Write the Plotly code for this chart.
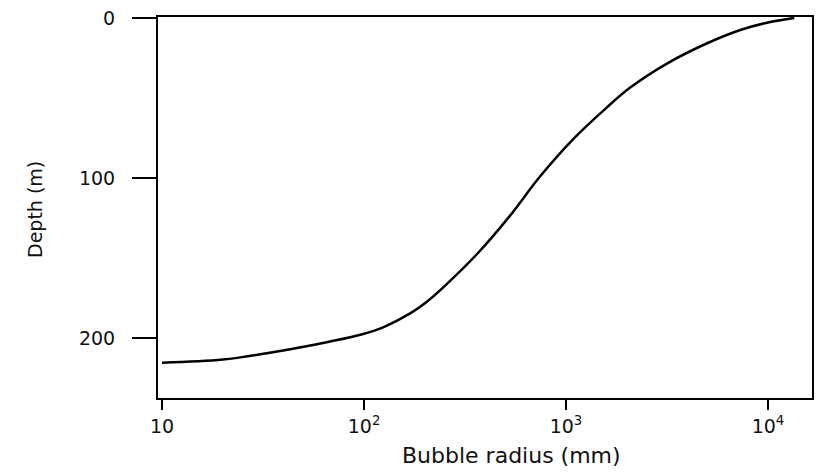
import plotly.graph_objects as go

radius_mm = [10, 20, 33, 55, 96, 126, 170, 204, 246, 363, 525, 740, 1080, 1590, 2080, 3160, 5000, 7300, 10000, 13500]
depth_m = [215.5, 213.5, 209.5, 204.5, 198, 193, 184.5, 177.5, 168.5, 147.5, 124, 99.4, 76, 56, 43.5, 28.5, 15.8, 7.5, 2.8, 0]

x_tickvals = [10, 100, 1000, 10000]
x_ticktext = ["10", "10<sup>2</sup>", "10<sup>3</sup>", "10<sup>4</sup>"]
y_tickvals = [0, 100, 200]
y_ticktext = ["0", "100", "200"]

# page has an 8px body margin; figure is placed at (8, 8)
OFF = 8
PL, PR, PT, PB = 158, 812, 17, 398  # plot box in page pixels
W, H = 827 - 2 * OFF, 476 - 2 * OFF

fig = go.Figure()
fig.add_trace(go.Scatter(
    x=radius_mm, y=depth_m, mode="lines",
    line=dict(color="black", width=2.5, shape="spline", smoothing=1.0),
    showlegend=False, hoverinfo="skip"))

fig.update_layout(
    width=W, height=H,
    margin=dict(l=PL - OFF, r=(W + OFF) - PR, t=PT - OFF, b=(H + OFF) - PB, pad=0),
    paper_bgcolor="white", plot_bgcolor="white",
    font=dict(family="DejaVu Sans", color="#111", size=19),
    xaxis=dict(type="log", range=[0.98, 4.218], tickvals=x_tickvals, ticktext=x_ticktext,
               ticks="outside", ticklen=10, tickwidth=2, tickcolor="black",
               showline=True, linecolor="black", linewidth=2, mirror=True,
               showgrid=False, zeroline=False, ticklabelstandoff=0,
               ticklabeloverflow="allow", automargin=False),
    yaxis=dict(range=[237.5, -0.6], tickvals=y_tickvals, ticktext=y_ticktext,
               ticks="outside", ticklen=24, tickwidth=2, tickcolor="black",
               showline=True, linecolor="black", linewidth=2, mirror=True,
               showgrid=False, zeroline=False, ticklabelstandoff=13,
               ticklabeloverflow="allow", automargin=False),
    annotations=[
        dict(text="Bubble radius (mm)", xref="paper", yref="paper",
             x=(511 - PL) / (PR - PL), y=-(455 - PB) / (PB - PT), showarrow=False,
             xanchor="center", yanchor="middle", font=dict(size=22)),
        dict(text="Depth (m)", xref="paper", yref="paper",
             x=(35 - PL) / (PR - PL), y=(PB - 210) / (PB - PT), showarrow=False, textangle=-90,
             xanchor="center", yanchor="middle", font=dict(size=19)),
    ],
)

fig.write_html("out.html")
